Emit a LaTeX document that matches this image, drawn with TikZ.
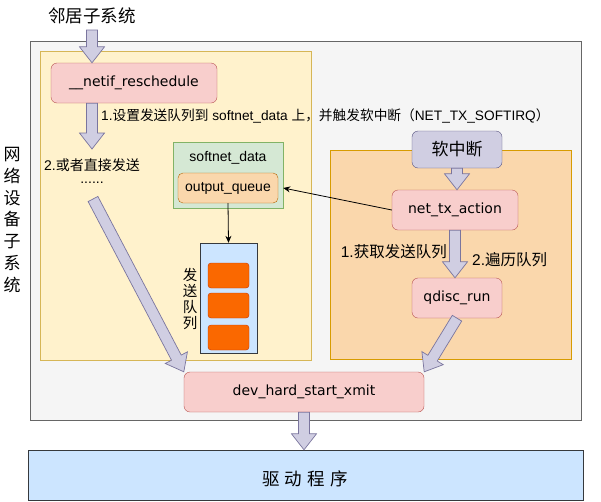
\documentclass[tikz,border=0pt]{standalone}
\usepackage{fontspec}
\setmainfont{Liberation Sans}
\newfontfamily\cjk{Noto Sans CJK SC}
\newfontfamily\comic{DejaVu Sans}
\usetikzlibrary{calc,arrows.meta}

\definecolor{outfill}{HTML}{F5F5F5}
\definecolor{outline}{HTML}{666666}
\definecolor{yelfill}{HTML}{FFF2CC}
\definecolor{yelline}{HTML}{D6B656}
\definecolor{orfill}{HTML}{FAD7AC}
\definecolor{orline}{HTML}{D79B00}
\definecolor{pinkfill}{HTML}{F8CECC}
\definecolor{pinkline}{HTML}{B85450}
\definecolor{lavfill}{HTML}{D0CEE2}
\definecolor{lavline}{HTML}{7A759E}
\definecolor{irqline}{HTML}{56517E}
\definecolor{grnfill}{HTML}{D5E8D4}
\definecolor{grnline}{HTML}{82B366}
\definecolor{oqline}{HTML}{B46504}
\definecolor{bluefill}{HTML}{CCE5FF}
\definecolor{blueline}{HTML}{36393D}
\definecolor{slotfill}{HTML}{FA6800}
\definecolor{slotline}{HTML}{C73500}

% fat arrow: from #1 to #2
\newcommand\fatarrow[2]{%
  \coordinate (fa-n) at ($(#2)!16pt!(#1)$);
  \draw[fatarrow] ($(#1)!5.5pt!90:(#2)$) -- ($(fa-n)!5.5pt!90:(#2)$)
    -- ($(fa-n)!12.5pt!90:(#2)$) -- (#2) -- ($(fa-n)!12.5pt!-90:(#2)$)
    -- ($(fa-n)!5.5pt!-90:(#2)$) -- ($(#1)!5.5pt!-90:(#2)$) -- cycle;}

\begin{document}
\begin{tikzpicture}[x=1pt, y=-1pt,
  func/.style={draw=pinkline, fill=pinkfill, rounded corners=6pt, inner sep=0pt,
    font=\comic\fontsize{14}{16}\selectfont},
  lbl/.style={inner sep=0pt, font=\fontsize{14}{16}\selectfont},
  fatarrow/.style={draw=lavline, fill=lavfill, line width=0.7pt, line join=miter},
  thin/.style={draw=black, line width=0.8pt, -{Stealth[length=7pt,width=6pt]}},
  slot/.style={draw=slotline, fill=slotfill, rounded corners=3pt,
    minimum width=41pt, minimum height=25pt, inner sep=0pt}]

	\useasboundingbox (0,0) rectangle (601,501);

	% ------------------------------------------------------------
	% Frames
	% ------------------------------------------------------------

	\draw[draw=outline, fill=outfill, line width=0.8pt] (30,41) rectangle (581,420);
	\draw[draw=yelline, fill=yelfill] (40,51) rectangle (311,360);
	\draw[draw=orline, fill=orfill] (330,150) rectangle (571,359);

	% ------------------------------------------------------------
	% Side labels
	% ------------------------------------------------------------

	\node[lbl, font=\cjk\fontsize{17.5}{19}\selectfont] (nbr) at (92,16) {邻居子系统};

	\node[lbl, align=center, font=\cjk\fontsize{17}{21.7}\selectfont] (netdev) at (12,220)
	{网\\络\\设\\备\\子\\系\\统};

	% ------------------------------------------------------------
	% Left part
	% ------------------------------------------------------------

	\node[func, minimum width=166pt, minimum height=40pt] (resched) at (134,83)
	{\_\_netif\_reschedule};

	\node[lbl, anchor=west, font=\fontsize{13.7}{16}\selectfont] (step1) at (101,116)
	{1.{\cjk 设置发送队列到} softnet\_data {\cjk 上，并触发软中断（}NET\_TX\_SOFTIRQ{\cjk ）}};

	\node[lbl, anchor=west] (direct) at (44,165) {2.{\cjk 或者直接发送}};
	\node[lbl] (dots) at (92,183) {......};

	% ------------------------------------------------------------
	% softnet_data and queue
	% ------------------------------------------------------------

	\node[draw=grnline, fill=grnfill, minimum width=110pt, minimum height=66pt] (softnet) at (228,175) {};
	\node[lbl] (sdlabel) at (228,158) {softnet\_data};
	\node[draw=oqline, fill=orfill, rounded corners=5pt, minimum width=100pt, minimum height=30pt,
	  inner sep=0pt, font=\fontsize{14}{16}\selectfont] (outq) at (228,188) {output\_queue};

	\node[draw=blueline, fill=bluefill, minimum width=57pt, minimum height=110pt] (queue) at (228.5,298) {};
	\foreach \y/\n in {275.5/1, 305.5/2, 337.5/3}
	  \node[slot] (slot\n) at (228.5,\y) {};
	\node[lbl, align=center, font=\cjk\fontsize{14.5}{16}\selectfont] (qlabel) at (190,299)
	{发\\送\\队\\列};

	% ------------------------------------------------------------
	% Right part
	% ------------------------------------------------------------

	\node[draw=irqline, fill=lavfill, rounded corners=6pt, minimum width=90pt, minimum height=37pt,
	  inner sep=0pt, font=\cjk\fontsize{17}{19}\selectfont] (softirq) at (457,149.5) {软中断};

	\node[func, minimum width=126pt, minimum height=40pt] (nettx) at (455,210) {net\_tx\_action};
	\node[func, minimum width=90pt, minimum height=40pt] (qdisc) at (457,298) {qdisc\_run};

	\node[lbl, anchor=east, font=\fontsize{15.5}{18}\selectfont] (get) at (447,252) {1.{\cjk 获取发送队列}};
	\node[lbl, anchor=west, font=\fontsize{15.5}{18}\selectfont] (walk) at (472,260) {2.{\cjk 遍历队列}};

	% ------------------------------------------------------------
	% Bottom
	% ------------------------------------------------------------

	\node[func, minimum width=240pt, minimum height=40pt] (dev) at (304,392) {dev\_hard\_start\_xmit};

	\node[draw=blueline, fill=bluefill, minimum width=555pt, minimum height=50pt] (driver) at (305.5,475) {};
	\node[lbl, font=\cjk\fontsize{17.5}{19}\selectfont] (drvlabel) at (305,479)
	{驱\hspace{5pt}动\hspace{5pt}程\hspace{5pt}序};

	% ------------------------------------------------------------
	% Connectors
	% ------------------------------------------------------------

	\coordinate (a1) at (92,30);
	\coordinate (a1t) at (nbr.south |- resched.north);
	\coordinate (a2) at (nbr.south |- resched.south);
	\coordinate (a2t) at (92,149);
	\coordinate (a3) at (93,199);
	\coordinate (a4t) at (softirq.south |- nettx.north);
	\coordinate (a5t) at (nettx.south |- qdisc.north);
	\coordinate (a7t) at (dev.south |- driver.north);

	\fatarrow{a1}{a1t}
	\fatarrow{a2}{a2t}
	\fatarrow{a3}{dev.north west}
	\fatarrow{softirq.south}{a4t}
	\fatarrow{nettx.south}{a5t}
	\fatarrow{qdisc.south}{dev.north east}
	\fatarrow{dev.south}{a7t}

	\draw[thin] (outq.south) -- (queue.north);
	\draw[thin] (nettx.west) -- (softnet.east |- outq.east);
\end{tikzpicture}
\end{document}
